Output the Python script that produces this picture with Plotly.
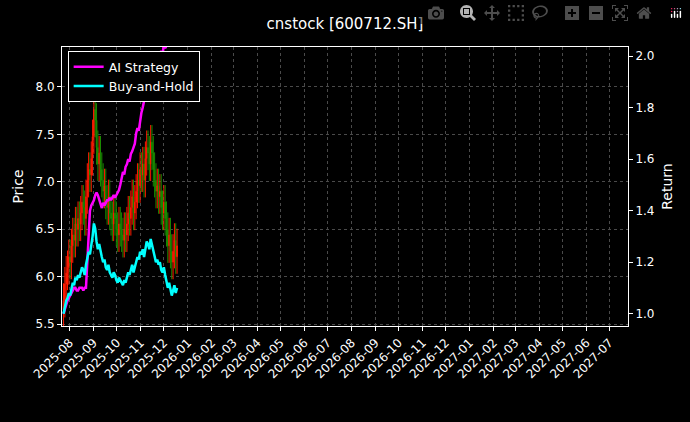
import pandas as pd
import plotly.graph_objects as go

bh_return = [1.0,1.03,1.05,1.06,1.08,1.07,1.10,1.12,1.11,1.14,1.13,1.15,1.14,1.16,1.18,1.17,1.15,1.19,1.22,1.24,1.23,
             1.26,1.30,1.35,1.33,1.28,1.25,1.27,1.24,1.22,1.20,1.21,1.18,1.17,1.19,1.16,1.15,1.14,1.16,1.15,1.13,
             1.12,1.14,1.13,1.12,1.11,1.13,1.12,1.14,1.16,1.15,1.17,1.19,1.16,1.18,1.20,1.22,1.21,1.24,
             1.23,1.25,1.22,1.26,1.28,1.27,1.25,1.29,1.27,1.24,1.22,1.20,1.21,1.19,1.20,1.17,1.16,1.18,1.15,1.13,
             1.10,1.12,1.09,1.07,1.09,1.11,1.08,1.10]
ai_return = [1.0,1.02,1.04,1.05,1.06,1.07,1.08,1.09,1.10,1.10,1.09,1.09,1.10,1.10,1.10,1.09,1.10,1.10,1.20,1.35,1.40,
             1.42,1.43,1.44,1.46,1.47,1.46,1.44,1.42,1.41,1.43,1.42,1.43,1.44,1.44,1.45,1.44,1.45,1.46,1.45,1.46,
             1.47,1.48,1.50,1.52,1.55,1.54,1.57,1.58,1.60,1.59,1.62,1.63,1.65,1.66,1.70,1.72,1.71,1.75,
             1.78,1.80,1.83,1.85,1.84,1.88,1.90,1.92,1.95,1.93,1.90,1.92,1.96,1.98,2.00,2.02,2.00,2.05,2.03,2.04,
             2.06,2.08,2.10,2.12,2.10,2.13,2.15,2.14]
base_price = 5.75
closes = [base_price * r for r in bh_return]
opens = [closes[0] - 0.1] + closes[:-1]
highs = [max(o, c) + 0.18 for o, c in zip(opens, closes)]
lows = [min(o, c) - 0.18 for o, c in zip(opens, closes)]
dates = pd.date_range("2025-07-24", "2025-12-18", periods=len(bh_return))

fig = go.Figure()
fig.add_trace(go.Candlestick(x=dates, open=opens, high=highs, low=lows, close=closes,
    increasing=dict(line=dict(color="#ff1a00", width=1), fillcolor="#ff1a00"),
    decreasing=dict(line=dict(color="#1a8a00", width=1), fillcolor="#1a8a00"),
    showlegend=False, whiskerwidth=0))
fig.add_trace(go.Scatter(x=dates, y=ai_return, name="AI Strategy", yaxis="y2",
    line=dict(color="#ff00ff", width=2.5)))
fig.add_trace(go.Scatter(x=dates, y=bh_return, name="Buy-and-Hold", yaxis="y2",
    line=dict(color="#00ffff", width=2.5)))

ticks = pd.date_range("2025-08-01", "2027-07-01", freq="MS")
grid = dict(showgrid=True, gridcolor="#4a4a4a", griddash="dot", gridwidth=0.6)
fig.update_layout(
    width=690, height=422, paper_bgcolor="black", plot_bgcolor="black",
    font=dict(family="DejaVu Sans", color="white", size=12),
    title=dict(text="cnstock [600712.SH]", x=0.5, y=0.955, font=dict(size=15)),
    margin=dict(l=62, r=62, t=47, b=96),
    xaxis=dict(range=["2025-07-22", "2027-07-25"], tickvals=ticks,
               ticktext=[d.strftime("%Y-%m") for d in ticks], tickangle=-45,
               rangeslider=dict(visible=False), ticks="outside", ticklen=4, tickcolor="white",
               showline=True, linecolor="white", mirror=True, **grid),
    yaxis=dict(title=dict(text="Price", standoff=8), range=[5.48, 8.42], dtick=0.5, tickformat=".1f",
               ticks="outside", ticklen=4, tickcolor="white",
               showline=True, linecolor="white", mirror=True, zeroline=False, **grid),
    yaxis2=dict(title=dict(text="Return", standoff=8), overlaying="y", side="right", range=[0.952, 2.035],
                dtick=0.2, tickformat=".1f", ticks="outside", ticklen=4, tickcolor="white",
                showgrid=False, zeroline=False),
    legend=dict(x=0.01, y=0.985, xanchor="left", yanchor="top", bgcolor="black",
                bordercolor="white", borderwidth=1, font=dict(size=12.5)),
)
fig.write_html("out.html",
    post_script="document.body.style.margin='0';document.body.style.background='black';")
